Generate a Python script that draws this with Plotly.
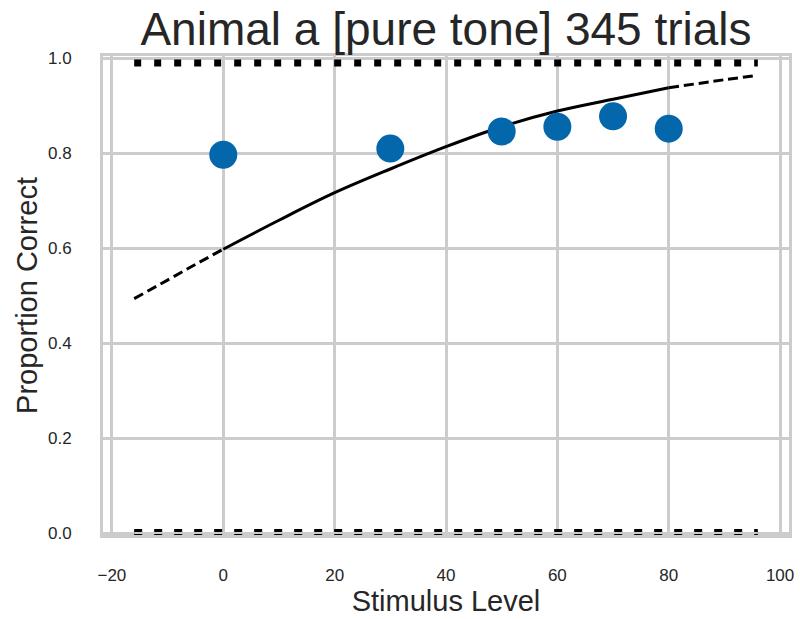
import plotly.graph_objects as go

# ---- data ----
stim_levels = [0, 30, 50, 60, 70, 80]
prop_correct = [0.797, 0.810, 0.846, 0.856, 0.878, 0.852]

# fitted psychometric curve
fit_x_low = [-16, -10, -5, 0]
fit_y_low = [0.494, 0.533, 0.566, 0.598]
fit_x_mid = [0, 10, 20, 30, 40, 50, 60, 70, 80]
fit_y_mid = [0.598, 0.659, 0.717, 0.767, 0.814, 0.856, 0.889, 0.914, 0.938]
fit_x_high = [80, 90, 96]
fit_y_high = [0.938, 0.955, 0.964]

# guide lines (upper asymptote / floor)
guide_x = [-16, 96]
upper_y = [0.99, 0.99]
floor_y = [0.0, 0.0]

x_ticks = [-20, 0, 20, 40, 60, 80, 100]
x_tick_labels = ["\u221220", "0", "20", "40", "60", "80", "100"]
y_ticks = [0.0, 0.2, 0.4, 0.6, 0.8, 1.0]
y_tick_labels = ["0.0", "0.2", "0.4", "0.6", "0.8", "1.0"]

FONT = "Liberation Sans, Arial, sans-serif"
TXT = "#262626"
GRID = "#cccccc"
BLUE = "#0467ab"

fig = go.Figure()

fig.add_trace(go.Scatter(x=guide_x, y=upper_y, mode="lines",
                         line=dict(color="black", width=7, dash="7px,13px"),
                         hoverinfo="skip", showlegend=False))
fig.add_trace(go.Scatter(x=guide_x, y=floor_y, mode="lines",
                         line=dict(color="black", width=8, dash="8px,12px"),
                         hoverinfo="skip", showlegend=False))
# light grey rule drawn over the floor dashes (as the frame overlaps it in the reference)
fig.add_trace(go.Scatter(x=guide_x, y=floor_y, mode="lines",
                         line=dict(color=GRID, width=2),
                         hoverinfo="skip", showlegend=False))

fig.add_trace(go.Scatter(x=fit_x_low, y=fit_y_low, mode="lines",
                         line=dict(color="black", width=3, dash="10px,5px", shape="spline"),
                         showlegend=False))
fig.add_trace(go.Scatter(x=fit_x_mid, y=fit_y_mid, mode="lines",
                         line=dict(color="black", width=3, shape="spline"),
                         showlegend=False))
fig.add_trace(go.Scatter(x=fit_x_high, y=fit_y_high, mode="lines",
                         line=dict(color="black", width=3, dash="10px,5px", shape="spline"),
                         showlegend=False))

fig.add_trace(go.Scatter(x=stim_levels, y=prop_correct, mode="markers",
                         marker=dict(color=BLUE, size=28, line=dict(width=0)),
                         showlegend=False))

fig.update_layout(
    width=800, height=619,
    margin=dict(l=103, r=6, t=56, b=84),
    paper_bgcolor="white", plot_bgcolor="white",
    font=dict(family=FONT, color=TXT),
    title=dict(text="Animal a [pure tone] 345 trials", x=0.5, xref="paper",
               xanchor="center", y=1 - 29 / 619, yref="container", yanchor="middle",
               font=dict(size=46, family=FONT, color=TXT)),
)

fig.update_xaxes(
    range=[-21.6, 101.6], tickvals=x_ticks, ticktext=x_tick_labels,
    showgrid=True, gridcolor=GRID, gridwidth=3,
    showline=True, linecolor=GRID, linewidth=3, mirror=True,
    zeroline=False, ticks="", ticklabelstandoff=23,
    tickfont=dict(size=17, color=TXT, family=FONT),
    title=dict(text="Stimulus Level", font=dict(size=29, color=TXT, family=FONT), standoff=2),
)
fig.update_yaxes(
    range=[-0.004, 1.005], tickvals=y_ticks, ticktext=y_tick_labels,
    showgrid=True, gridcolor=GRID, gridwidth=3,
    showline=True, linecolor=GRID, linewidth=3, mirror=True,
    zeroline=False, ticks="", ticklabelstandoff=25,
    tickfont=dict(size=17, color=TXT, family=FONT),
    title=dict(text="Proportion Correct", font=dict(size=29, color=TXT, family=FONT), standoff=2),
)

fig.write_html("out.html")
